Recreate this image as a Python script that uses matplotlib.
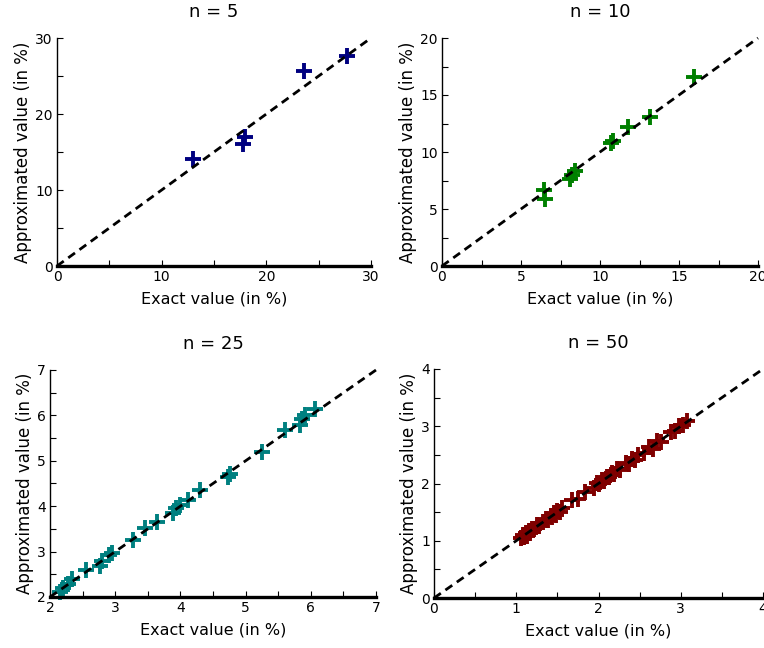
import matplotlib
matplotlib.use("Agg")
import matplotlib.pyplot as plt
from matplotlib.ticker import MultipleLocator

# ---------------- data ----------------
titles = ["n = 5", "n = 10", "n = 25", "n = 50"]
colors = ["#000080", "#008000", "#008080", "#800000"]
limits = [(0, 30), (0, 20), (2, 7), (0, 4)]
major_steps = [10, 5, 1, 1]
minor_steps = [5, 2.5, 0.5, 0.5]

x_n5 = [12.95, 17.8, 17.95, 23.6, 27.7]
y_n5 = [14.1, 16.1, 17.0, 25.6, 27.6]

x_n10 = [6.48, 6.54, 8.1, 8.25, 8.4, 10.7, 10.85, 11.75, 13.16, 15.95]
y_n10 = [6.7, 5.9, 7.65, 8.0, 8.3, 10.8, 11.0, 12.2, 13.08, 16.58]

x_n25 = [2.15, 2.2, 2.28, 2.33, 2.55, 2.77, 2.8, 2.9, 2.95, 3.28, 3.46, 3.64,
         3.89, 3.94, 3.99, 4.12, 4.3, 4.73, 4.76, 5.25, 5.6, 5.83, 5.86, 5.91, 6.06]
y_n25 = [2.11, 2.2, 2.29, 2.4, 2.59, 2.68, 2.8, 2.92, 2.96, 3.25, 3.51, 3.65,
         3.84, 3.95, 4.02, 4.13, 4.35, 4.65, 4.72, 5.2, 5.68, 5.79, 5.93, 6.0, 6.15]

x_n50 = [1.06, 1.08, 1.10, 1.12, 1.13, 1.15, 1.17, 1.19, 1.22, 1.25,
         1.28, 1.33, 1.36, 1.39, 1.42, 1.44, 1.46, 1.48, 1.50, 1.53,
         1.56, 1.68, 1.75, 1.83, 1.95, 1.98, 2.01, 2.04, 2.07, 2.10,
         2.13, 2.16, 2.19, 2.22, 2.26, 2.33, 2.37, 2.41, 2.44, 2.48,
         2.55, 2.62, 2.66, 2.71, 2.76, 2.88, 2.93, 2.98, 3.03, 3.08]
y_n50 = [1.04, 1.10, 1.07, 1.13, 1.09, 1.17, 1.14, 1.20, 1.21, 1.27,
         1.26, 1.32, 1.38, 1.36, 1.43, 1.41, 1.49, 1.45, 1.52, 1.50,
         1.58, 1.72, 1.73, 1.85, 1.93, 2.01, 1.99, 2.06, 2.05, 2.12,
         2.11, 2.18, 2.17, 2.25, 2.24, 2.35, 2.34, 2.43, 2.41, 2.50,
         2.53, 2.63, 2.61, 2.74, 2.73, 2.90, 2.92, 3.00, 3.02, 3.10]

xs = [x_n5, x_n10, x_n25, x_n50]
ys = [y_n5, y_n10, y_n25, y_n50]

xlabel = "Exact value (in %)"
ylabel = "Approximated value (in %)"

# ---------------- layout ----------------
W, H = 764, 648
fig = plt.figure(figsize=(W / 100, H / 100), dpi=100)
plt.rcParams['font.family'] = ['DejaVu Sans']

boxes_px = [(57, 38, 371, 266), (442, 38, 758, 266),
            (50, 370, 376, 597), (434, 369, 763, 598)]

for i in range(4):
    l, t, r, b = boxes_px[i]
    ax = fig.add_axes([l / W, 1 - b / H, (r - l) / W, (b - t) / H])
    lo, hi = limits[i]
    ax.scatter(xs[i], ys[i], marker='+', s=120, linewidths=2.8,
               color=colors[i], zorder=2, clip_on=False)
    ax.plot([lo, hi], [lo, hi], color='black', lw=2, ls=(0, (3, 2)),
            zorder=3, clip_on=False)
    ax.set_xlim(lo, hi)
    ax.set_ylim(lo, hi)
    ax.xaxis.set_major_locator(MultipleLocator(major_steps[i]))
    ax.yaxis.set_major_locator(MultipleLocator(major_steps[i]))
    ax.xaxis.set_minor_locator(MultipleLocator(minor_steps[i]))
    ax.yaxis.set_minor_locator(MultipleLocator(minor_steps[i]))
    ax.spines['top'].set_visible(False)
    ax.spines['right'].set_visible(False)
    ax.spines['bottom'].set_linewidth(2.4)
    ax.spines['left'].set_linewidth(1.0)
    ax.tick_params(which='both', direction='in', length=4, width=0.8,
                   labelsize=10, pad=3)
    ax.tick_params(which='minor', length=4)
    ax.set_title(titles[i], fontsize=13, pad=15)
    ax.set_xlabel(xlabel, fontsize=11.5, labelpad=5)
    ax.set_ylabel(ylabel, fontsize=12, labelpad=2)

fig.savefig("out.png", dpi=100)
